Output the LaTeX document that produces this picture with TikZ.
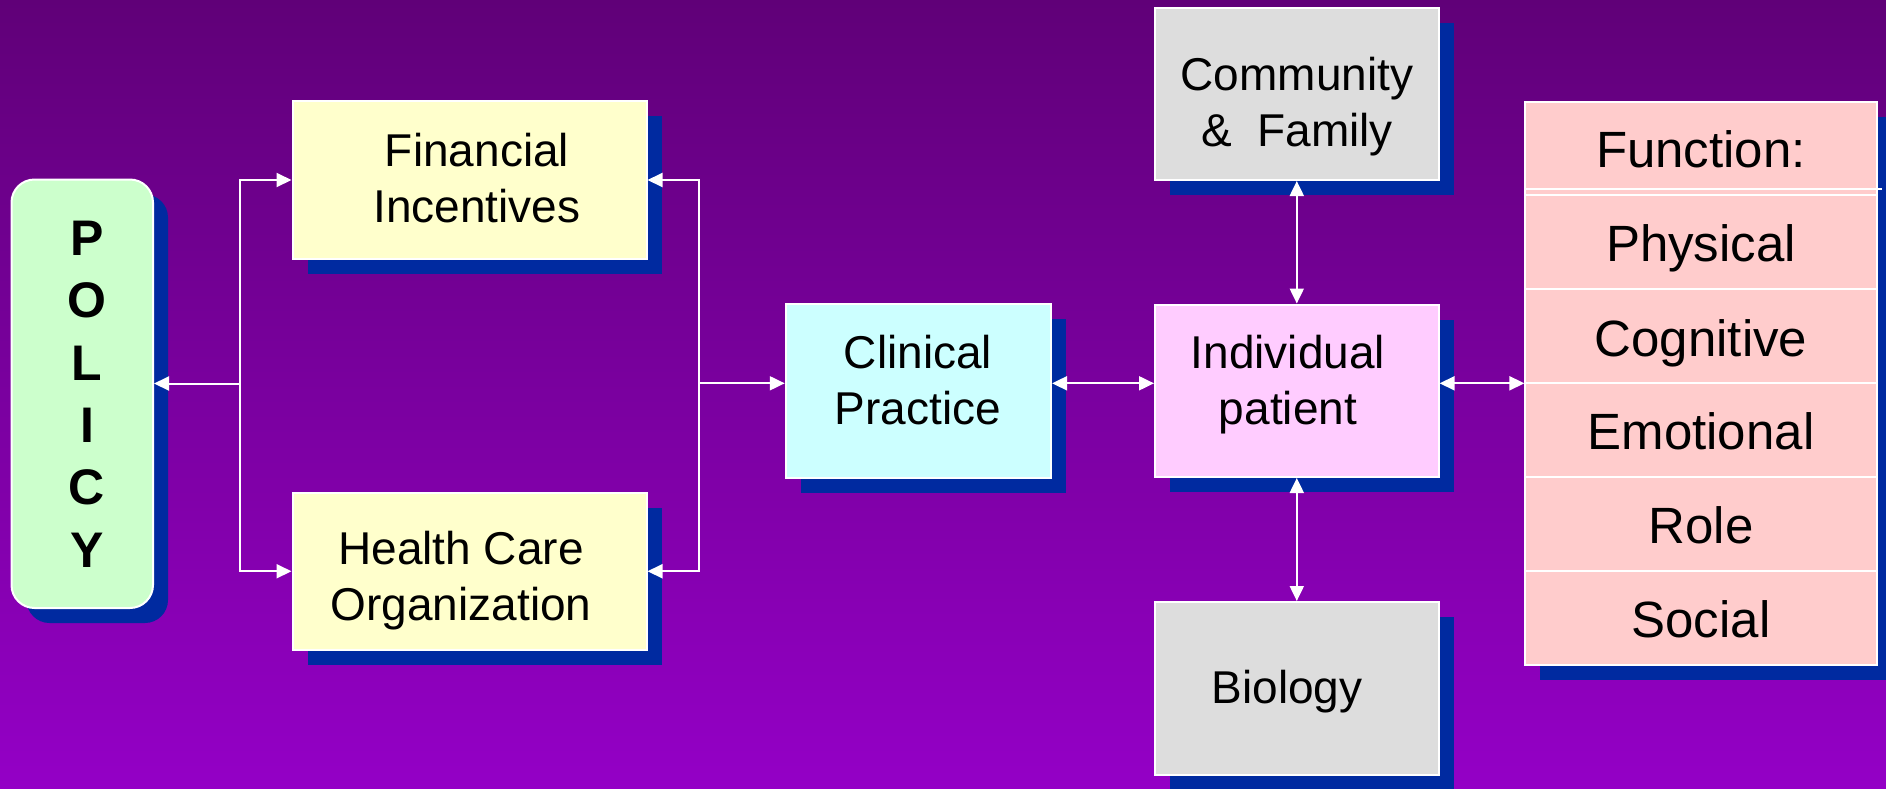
\documentclass[tikz,border=0pt]{standalone}
\usepackage{fontspec}
\setmainfont{Liberation Sans}
\usetikzlibrary{arrows.meta,shadows,calc}
\definecolor{bgtop}{HTML}{600078}
\definecolor{bgbot}{HTML}{9400C6}
\definecolor{shadowblue}{HTML}{002AA0}
\definecolor{policyfill}{HTML}{CCFFCC}
\definecolor{yellowfill}{HTML}{FFFFCC}
\definecolor{cyanfill}{HTML}{CCFFFF}
\definecolor{pinkfill}{HTML}{FFCCFF}
\definecolor{grayfill}{HTML}{DDDDDD}
\definecolor{rosefill}{HTML}{FFCCCC}
\begin{document}
\begin{tikzpicture}[x=0.5pt,y=-0.5pt,
  box/.style={draw=white, line width=1pt, inner sep=0pt,
    general shadow={fill=shadowblue, shadow xshift=7.5pt, shadow yshift=-7.5pt}},
  sz/.style 2 args={minimum width=#1*0.5pt, minimum height=#2*0.5pt},
  lbl/.style={text=black, align=center, inner sep=0pt, font=\fontsize{23pt}{28pt}\selectfont},
  rowlbl/.style={text=black, inner sep=0pt, font=\fontsize{25.5pt}{30pt}\selectfont},
  policylbl/.style={text=black, align=center, inner sep=0pt, font=\bfseries\fontsize{25pt}{31.2pt}\selectfont},
  conn/.style={draw=white, line width=1pt, >={Triangle[length=7.5pt,width=7pt]}},
  sepline/.style={draw=white, line width=1pt},
]
\useasboundingbox (0,0) rectangle (1886,788);
\begin{scope}[y=0.5pt]
  \shade[top color=bgtop, bottom color=bgbot] (0,-788) rectangle (1886,0);
\end{scope}

% POLICY
\node[box, fill=policyfill, rounded corners=11.5pt, sz={141.5}{428.5}] (policy) at (82.25,393.75) {};
\node[policylbl] (policyT) at (87,394) {P\\O\\L\\I\\C\\Y};

% Financial / Health Care
\node[box, fill=yellowfill, sz={354}{158}] (fin) at (469.5,180) {};
\node[lbl] (finT) at (477,178) {Financial\\Incentives};
\node[box, fill=yellowfill, sz={354}{157.5}] (hco) at (469.5,571.25) {};
\node[lbl] (hcoT) at (461,580.5) {Health Care\\Organization};

% Clinical Practice
\node[box, fill=cyanfill, sz={265.3}{173.7}] (clin) at (918.4,390.9) {};
\node[lbl] (clinT) at (918,380.5) {Clinical\\Practice};

% Community, Individual, Biology
\node[box, fill=grayfill, sz={283.6}{172.5}] (comm) at (1296.8,93.75) {};
\node[lbl] (commT) at (1297,106.3) {Community\\\&\ \ Family};
\node[box, fill=pinkfill, sz={283.6}{172.5}] (indiv) at (1296.8,390.75) {};
\node[lbl] (indivT) at (1288,384.9) {Individual\\patient};
\node[box, fill=grayfill, sz={283.6}{173}] (bio) at (1296.8,688.5) {};
\node[lbl] (bioT) at (1287,692) {Biology};

% Function column
\node[box, fill=rosefill, sz={352}{93.5}] (fHead) at (1701.4,148.25) {};
\node[box, fill=rosefill, sz={352}{94}] (fPhys) at (1701.4,242) {};
\node[box, fill=rosefill, sz={352}{94}] (fCog) at (1701.4,336) {};
\node[box, fill=rosefill, sz={352}{94}] (fEmo) at (1701.4,430) {};
\node[box, fill=rosefill, sz={352}{94}] (fRole) at (1701.4,524) {};
\node[box, fill=rosefill, sz={352}{94}] (fSoc) at (1701.4,618) {};
\draw[sepline] ($(fHead.south west)+(0,-7)$) -- ++(358,0);
\node[rowlbl] (fHeadT) at (1701,149.4) {Function:};
\node[rowlbl] (fPhysT) at (1701,248) {Physical};
\node[rowlbl] (fCogT) at (1701,343) {Cognitive};
\node[rowlbl] (fEmoT) at (1701,431) {Emotional};
\node[rowlbl] (fRoleT) at (1701,525) {Role};
\node[rowlbl] (fSocT) at (1701,619) {Social};

% connectors
\coordinate (jL) at (240,383.5);
\coordinate (jR) at (698.7,383.3);
\draw[conn,->] (jL) -- (policy.east |- jL);
\draw[conn,->] (jL) |- (fin.west);
\draw[conn,->] (jL) |- (hco.west);
\draw[conn,->] (jR) |- (fin.east);
\draw[conn,->] (jR) |- (hco.east);
\draw[conn,->] (jR) -- (clin.west |- jR);
\draw[conn,<->] (clin.east |- jR) -- (indiv.west |- jR);
\draw[conn,<->] (indiv.east |- jR) -- (fEmo.north west |- jR);
\draw[conn,<->] (comm.south) -- (indiv.north);
\draw[conn,<->] (indiv.south) -- (bio.north);
\end{tikzpicture}
\end{document}
